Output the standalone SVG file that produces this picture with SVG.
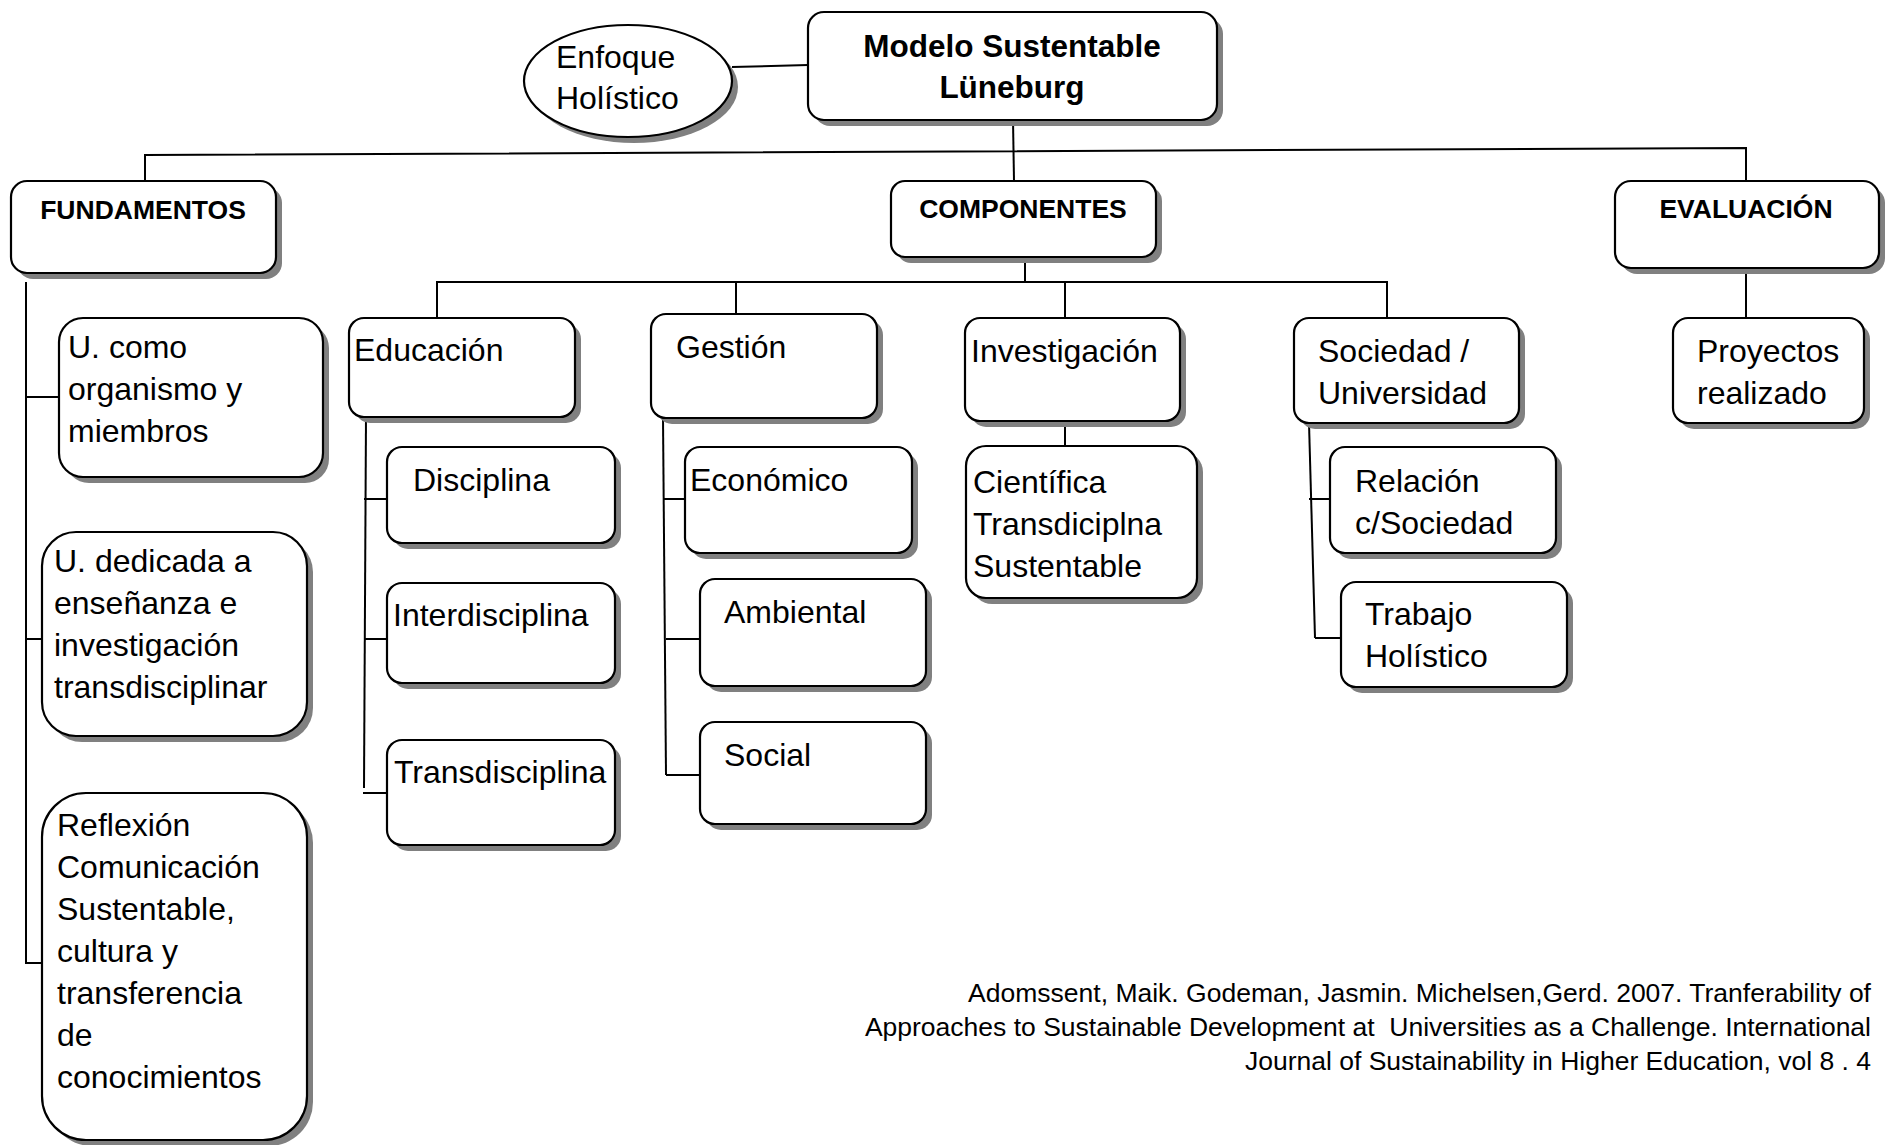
<svg xmlns="http://www.w3.org/2000/svg" width="1893" height="1145" viewBox="0 0 1893 1145">
<style>
.box{fill:#fff;stroke:#000;stroke-width:2.2}
.sh{fill:#808080;stroke:none}
.ln{fill:none;stroke:#000;stroke-width:2}
text{font-family:"Liberation Sans",Arial,sans-serif;fill:#000}
.t{font-size:32px}
.b{font-size:26.5px;font-weight:bold;text-anchor:middle}
.title{font-size:31.5px;font-weight:bold;text-anchor:middle}
.cite{font-size:26.5px;text-anchor:end}
</style>
<rect width="1893" height="1145" fill="#fff"/>

<g id="connectors">
<line class="ln" x1="732" y1="67" x2="808" y2="65"/>
<line class="ln" x1="1013" y1="120" x2="1014" y2="181"/>
<polyline class="ln" points="145,189 145,155 1746,148 1746,181"/>
<line class="ln" x1="1746" y1="268" x2="1746" y2="318"/>
<line class="ln" x1="1025" y1="257" x2="1025" y2="282"/>
<polyline class="ln" points="437,318 437,282 1387,282 1387,318"/>
<line class="ln" x1="736" y1="282" x2="736" y2="314"/>
<line class="ln" x1="1065" y1="282" x2="1065" y2="318"/>
<line class="ln" x1="1065" y1="421" x2="1065" y2="447"/>
<polyline class="ln" points="26,282 26,963 42,963"/>
<line class="ln" x1="26" y1="397" x2="59" y2="397"/>
<line class="ln" x1="26" y1="639" x2="42" y2="639"/>
<line class="ln" x1="366" y1="417" x2="364" y2="788"/>
<line class="ln" x1="363" y1="793" x2="387" y2="793"/>
<line class="ln" x1="364" y1="499" x2="387" y2="499"/>
<line class="ln" x1="364" y1="639" x2="387" y2="639"/>
<line class="ln" x1="663" y1="418" x2="666" y2="775"/>
<line class="ln" x1="663" y1="499" x2="685" y2="499"/>
<line class="ln" x1="666" y1="639" x2="700" y2="639"/>
<line class="ln" x1="666" y1="775" x2="703" y2="775"/>
<line class="ln" x1="1309" y1="423" x2="1315" y2="638"/>
<line class="ln" x1="1309" y1="499" x2="1330" y2="499"/>
<line class="ln" x1="1315" y1="638" x2="1341" y2="638"/>
</g>

<g id="enfoque">
<ellipse class="sh" cx="634" cy="87" rx="104" ry="56"/>
<ellipse class="box" cx="628" cy="81" rx="104" ry="56"/>
<text class="t" x="556" y="68">Enfoque</text>
<text class="t" x="556" y="109">Holístico</text>
</g>

<g id="modelo">
<rect class="sh" x="814" y="18" width="409" height="108" rx="16"/>
<rect class="box" x="808" y="12" width="409" height="108" rx="16"/>
<text class="title" x="1012" y="57">Modelo Sustentable</text>
<text class="title" x="1012" y="98">Lüneburg</text>
</g>

<g id="fundamentos">
<rect class="sh" x="17" y="187" width="265" height="92" rx="16"/>
<rect class="box" x="11" y="181" width="265" height="92" rx="16"/>
<text class="b" x="143" y="219">FUNDAMENTOS</text>
</g>

<g id="componentes">
<rect class="sh" x="897" y="187" width="265" height="76" rx="14"/>
<rect class="box" x="891" y="181" width="265" height="76" rx="14"/>
<text class="b" x="1023" y="218">COMPONENTES</text>
</g>

<g id="evaluacion">
<rect class="sh" x="1621" y="187" width="264" height="87" rx="16"/>
<rect class="box" x="1615" y="181" width="264" height="87" rx="16"/>
<text class="b" x="1746" y="218">EVALUACIÓN</text>
</g>

<g id="u-como">
<rect class="sh" x="65" y="324" width="264" height="159" rx="24"/>
<rect class="box" x="59" y="318" width="264" height="159" rx="24"/>
<text class="t" x="68" y="358">U. como</text>
<text class="t" x="68" y="400">organismo y</text>
<text class="t" x="68" y="442">miembros</text>
</g>

<g id="u-dedicada">
<rect class="sh" x="48" y="538" width="265" height="204" rx="34"/>
<rect class="box" x="42" y="532" width="265" height="204" rx="34"/>
<text class="t" x="54" y="572">U. dedicada a</text>
<text class="t" x="54" y="614">enseñanza e</text>
<text class="t" x="54" y="656">investigación</text>
<text class="t" x="54" y="698">transdisciplinar</text>
</g>

<g id="reflexion">
<rect class="sh" x="48" y="799" width="265" height="347" rx="44"/>
<rect class="box" x="42" y="793" width="265" height="347" rx="44"/>
<text class="t" x="57" y="836">Reflexión</text>
<text class="t" x="57" y="878">Comunicación</text>
<text class="t" x="57" y="920">Sustentable,</text>
<text class="t" x="57" y="962">cultura y</text>
<text class="t" x="57" y="1004">transferencia</text>
<text class="t" x="57" y="1046">de</text>
<text class="t" x="57" y="1088">conocimientos</text>
</g>

<g id="educacion">
<rect class="sh" x="355" y="324" width="226" height="99" rx="15"/>
<rect class="box" x="349" y="318" width="226" height="99" rx="15"/>
<text class="t" x="354" y="361">Educación</text>
</g>

<g id="disciplina">
<rect class="sh" x="393" y="453" width="228" height="96" rx="15"/>
<rect class="box" x="387" y="447" width="228" height="96" rx="15"/>
<text class="t" x="413" y="491">Disciplina</text>
</g>

<g id="interdisciplina">
<rect class="sh" x="393" y="589" width="228" height="100" rx="15"/>
<rect class="box" x="387" y="583" width="228" height="100" rx="15"/>
<text class="t" x="393" y="626">Interdisciplina</text>
</g>

<g id="transdisciplina">
<rect class="sh" x="393" y="746" width="228" height="105" rx="15"/>
<rect class="box" x="387" y="740" width="228" height="105" rx="15"/>
<text class="t" x="394" y="783">Transdisciplina</text>
</g>

<g id="gestion">
<rect class="sh" x="657" y="320" width="226" height="104" rx="15"/>
<rect class="box" x="651" y="314" width="226" height="104" rx="15"/>
<text class="t" x="676" y="358">Gestión</text>
</g>

<g id="economico">
<rect class="sh" x="691" y="453" width="227" height="106" rx="15"/>
<rect class="box" x="685" y="447" width="227" height="106" rx="15"/>
<text class="t" x="690" y="491">Económico</text>
</g>

<g id="ambiental">
<rect class="sh" x="706" y="585" width="226" height="107" rx="15"/>
<rect class="box" x="700" y="579" width="226" height="107" rx="15"/>
<text class="t" x="724" y="623">Ambiental</text>
</g>

<g id="social">
<rect class="sh" x="706" y="728" width="226" height="102" rx="15"/>
<rect class="box" x="700" y="722" width="226" height="102" rx="15"/>
<text class="t" x="724" y="766">Social</text>
</g>

<g id="investigacion">
<rect class="sh" x="971" y="324" width="215" height="103" rx="15"/>
<rect class="box" x="965" y="318" width="215" height="103" rx="15"/>
<text class="t" x="971" y="362">Investigación</text>
</g>

<g id="cientifica">
<rect class="sh" x="972" y="452" width="231" height="152" rx="20"/>
<rect class="box" x="966" y="446" width="231" height="152" rx="20"/>
<text class="t" x="973" y="493">Científica</text>
<text class="t" x="973" y="535">Transdiciplna</text>
<text class="t" x="973" y="577">Sustentable</text>
</g>

<g id="sociedad">
<rect class="sh" x="1300" y="324" width="225" height="105" rx="15"/>
<rect class="box" x="1294" y="318" width="225" height="105" rx="15"/>
<text class="t" x="1318" y="362">Sociedad /</text>
<text class="t" x="1318" y="404">Universidad</text>
</g>

<g id="relacion">
<rect class="sh" x="1336" y="453" width="226" height="106" rx="15"/>
<rect class="box" x="1330" y="447" width="226" height="106" rx="15"/>
<text class="t" x="1355" y="492">Relación</text>
<text class="t" x="1355" y="534">c/Sociedad</text>
</g>

<g id="trabajo">
<rect class="sh" x="1347" y="588" width="226" height="105" rx="15"/>
<rect class="box" x="1341" y="582" width="226" height="105" rx="15"/>
<text class="t" x="1365" y="625">Trabajo</text>
<text class="t" x="1365" y="667">Holístico</text>
</g>

<g id="proyectos">
<rect class="sh" x="1679" y="324" width="191" height="105" rx="15"/>
<rect class="box" x="1673" y="318" width="191" height="105" rx="15"/>
<text class="t" x="1697" y="362">Proyectos</text>
<text class="t" x="1697" y="404">realizado</text>
</g>

<g id="citation">
<text class="cite" x="1871" y="1002">Adomssent, Maik. Godeman, Jasmin. Michelsen,Gerd. 2007. Tranferability of</text>
<text class="cite" x="1871" y="1036" xml:space="preserve">Approaches to Sustainable Development at  Universities as a Challenge. International</text>
<text class="cite" x="1871" y="1070">Journal of Sustainability in Higher Education, vol 8 . 4</text>
</g>
</svg>
